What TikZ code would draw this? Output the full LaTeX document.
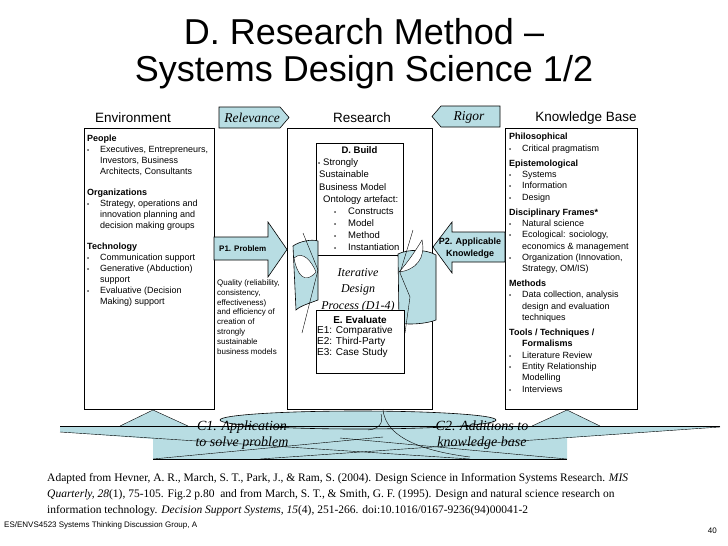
\documentclass[tikz,border=0pt]{standalone}
\usepackage{fontspec}
\setmainfont{Liberation Serif}
\setsansfont{Liberation Sans}
\usetikzlibrary{arrows.meta,positioning}
\definecolor{PaleTeal}{HTML}{B8DDE3}
\newcommand{\bl}{\makebox[13pt][l]{\fontsize{6}{6}\selectfont\textbullet}}
\newcommand{\ind}{\hspace*{13pt}}
\tikzset{
  frame/.style={draw,line width=0.7pt,inner sep=0pt,anchor=north west},
  blueshape/.style={fill=PaleTeal,draw=black,line width=0.6pt},
  colhead/.style={font=\sffamily\fontsize{13.5}{16}\selectfont},
  itext/.style={font=\rmfamily\itshape\fontsize{13.5}{16}\selectfont,inner sep=0pt},
  boxtext/.style={font=\sffamily\fontsize{9}{11}\selectfont,align=left,anchor=base west,inner sep=0pt}
}
\begin{document}
\begin{tikzpicture}[x=1pt,y=-1pt]
  \useasboundingbox (0,0) rectangle (728,546);
  % title (multi-line nodes sit on their last baseline)
  \node[font=\sffamily\fontsize{36}{37}\selectfont,align=center,anchor=base] (title)
    at (364,81) {D. Research Method –\\Systems Design Science 1/2};
  \node[colhead] (envhead) at (133,118) {Environment};
  \node[colhead] (reshead) at (362,118) {Research};
  \node[colhead] (kbhead) at (586,118) {Knowledge Base};

  % bottom cycle arrows
  \fill[PaleTeal] (60,426) -- (720,426) -- (720,427) -- (567,438) -- (567,459)
    -- (153,459) -- (153,439) -- (60,432) -- cycle;
  \draw[blueshape] (358,420) ellipse [x radius=138, y radius=9];
  \fill[PaleTeal] (120,426) -- (153,410) -- (188,426) -- cycle;
  \fill[PaleTeal] (532,426) -- (567,410) -- (600,426) -- cycle;
  \draw (120,426) -- (153,410) -- (188,426);
  \draw (532,426) -- (567,410) -- (600,426);
  \draw (60,426) -- (720,426);
  \draw (60,432) -- (470,459);
  \draw (720,427) -- (260,459);
  \draw (153,459) -- (567,459);
  \draw (153,459) -- (383,437);
  \draw (567,459) -- (340,438);
  \draw (383,409) .. controls (385,440) and (430,452) .. (470,457);
  \draw (381,414) .. controls (384,424) and (378,429) .. (368,430);
  \node[itext,align=center,anchor=base,font=\rmfamily\itshape\fontsize{14}{16}\selectfont] (apply)
    at (242,446) {C1. Application\\to solve problem};
  \node[itext,align=center,anchor=base,font=\rmfamily\itshape\fontsize{14}{16}\selectfont] (additions)
    at (482,446) {C2. Additions to\\knowledge base};

  % the three columns
  \node[frame,minimum width=130,minimum height=281] (envbox) at (84,128) {};
  \node[frame,minimum width=145,minimum height=281] (resbox) at (287,128) {};
  \node[frame,minimum width=132,minimum height=281] (kbbox) at (505,128) {};

  \draw[blueshape] (219,107) -- (280,107) -- (289,117.5) -- (280,128) -- (219,128) -- cycle;
  \node[itext] (relevance) at (252,117.5) {Relevance};
  \draw[blueshape] (432,116.5) -- (441,106) -- (500,106) -- (500,127) -- (441,127) -- cycle;
  \node[itext] (rigor) at (469,117) {Rigor};

  \draw[blueshape] (214,237) -- (268,237) -- (268,222) -- (287,249.5) -- (268,277)
    -- (268,260) -- (214,260) -- cycle;
  \node[font=\sffamily\bfseries\fontsize{8}{10}\selectfont,anchor=base west,inner sep=0pt] (problem)
    at (219,251) {P1. Problem};
  \draw[blueshape] (505,232) -- (452,232) -- (452,222) -- (433,247) -- (452,273)
    -- (452,262) -- (505,262) -- cycle;
  \node[font=\sffamily\bfseries\fontsize{9}{12}\selectfont,align=center,anchor=base,inner sep=0pt] (applicable)
    at (470,256) {P2. Applicable\\Knowledge};

  \node[boxtext] (people) at (87,304) {\textbf{People}\\
    \bl Executives, Entrepreneurs,\\
    \ind Investors, Business\\
    \ind Architects, Consultants\\[10pt]
    \textbf{Organizations}\\
    \bl Strategy, operations and\\
    \ind innovation planning and\\
    \ind decision making groups\\[10pt]
    \textbf{Technology}\\
    \bl Communication support\\
    \bl Generative (Abduction)\\
    \ind support\\
    \bl Evaluative (Decision\\
    \ind Making) support};

  \node[boxtext,font=\sffamily\fontsize{8}{9.8}\selectfont] (quality) at (217,354) {Quality (reliability,\\
    consistency,\\effectiveness)\\and efficiency of\\creation of\\strongly\\sustainable\\business models};

  % research: build / evaluate loop
  \node[frame,fill=white,minimum width=87,minimum height=112] (build) at (316,143) {};
  \node[font=\sffamily\bfseries\fontsize{9.5}{12}\selectfont,anchor=base,inner sep=0pt] (buildtitle)
    at (359.5,153) {D. Build};
  \node[boxtext,font=\sffamily\fontsize{9.5}{12.1}\selectfont] (buildlist) at (318,250.5) {%
    \makebox[5pt][l]{\fontsize{6}{6}\selectfont\textbullet}Strongly\\
    \hspace*{1pt}Sustainable\\
    \hspace*{1pt}Business Model\\
    \hspace*{5pt}Ontology artefact:\\
    \hspace*{16pt}\makebox[14pt][l]{\fontsize{6}{6}\selectfont\textbullet}Constructs\\
    \hspace*{16pt}\makebox[14pt][l]{\fontsize{6}{6}\selectfont\textbullet}Model\\
    \hspace*{16pt}\makebox[14pt][l]{\fontsize{6}{6}\selectfont\textbullet}Method\\
    \hspace*{16pt}\makebox[14pt][l]{\fontsize{6}{6}\selectfont\textbullet}Instantiation};

  \draw[blueshape] (293,246) .. controls (300,241) and (312,239) .. (318,241) -- (318,300)
    .. controls (310,303) and (300,306) .. (296,310) -- cycle;
  \draw[fill=white] (294,258) .. controls (303,250) and (312,262) .. (316,272)
    .. controls (305,285) and (297,275) .. (294,258) -- cycle;
  \draw (303,233) -- (318,270) -- (302,333);
  \draw[blueshape] (398,254) .. controls (408,249) and (426,249) .. (436,255) -- (436,320)
    .. controls (426,324) and (408,325) .. (399,323) -- cycle;
  \draw[fill=white] (399,272) .. controls (408,262) and (416,250) .. (422,240)
    .. controls (426,258) and (416,270) .. (399,272) -- cycle;
  \draw (413,230) -- (400,273) -- (410,297) -- (405,333);

  \node[itext,align=center,anchor=base,font=\rmfamily\itshape\fontsize{12}{16.5}\selectfont] (iterative)
    at (358,309) {Iterative\\Design\\Process (D1-4)};

  \node[frame,fill=white,minimum width=88,minimum height=63] (evaluate) at (316,310) {};
  \node[font=\sffamily\bfseries\fontsize{10}{12}\selectfont,anchor=base,inner sep=0pt] (evaltitle)
    at (360,323) {E. Evaluate};
  \node[boxtext,font=\sffamily\fontsize{10}{10.7}\selectfont] (evallist) at (317,355) {%
    E1: Comparative\\E2: Third-Party\\E3: Case Study};

  % knowledge base
  \node[boxtext,font=\sffamily\fontsize{9}{11.3}\selectfont] (philosophical) at (509,392) {\textbf{Philosophical}\\
    \bl Critical pragmatism\\[3.7pt]
    \textbf{Epistemological}\\
    \bl Systems\\
    \bl Information\\
    \bl Design\\[3.7pt]
    \textbf{Disciplinary Frames*}\\
    \bl Natural science\\
    \bl Ecological: sociology,\\
    \ind economics \& management\\
    \bl Organization (Innovation,\\
    \ind Strategy, OM/IS)\\[3.7pt]
    \textbf{Methods}\\
    \bl Data collection, analysis\\
    \ind design and evaluation\\
    \ind techniques\\[3.7pt]
    \textbf{Tools / Techniques /}\\
    \ind\textbf{Formalisms}\\
    \bl Literature Review\\
    \bl Entity Relationship\\
    \ind Modelling\\
    \bl Interviews};

  % reference and footer
  \node[anchor=base west,align=left,inner sep=0pt,font=\rmfamily\fontsize{11.5}{16}\selectfont] (source)
    at (47,513) {Adapted from Hevner, A. R., March, S. T., Park, J., \& Ram, S. (2004). Design Science in Information Systems Research. \textit{MIS}\\
    \textit{Quarterly, 28}(1), 75-105. Fig.2 p.80 \ and from March, S. T., \& Smith, G. F. (1995). Design and natural science research on\\
    information technology. \textit{Decision Support Systems, 15}(4), 251-266. doi:10.1016/0167-9236(94)00041-2};
  \node[anchor=base west,inner sep=0pt,font=\sffamily\fontsize{8}{10}\selectfont] (course)
    at (4,527) {ES/ENVS4523 Systems Thinking Discussion Group, A};
  \node[anchor=base east,inner sep=0pt,font=\sffamily\fontsize{8}{10}\selectfont] (page)
    at (717,533) {40};
\end{tikzpicture}
\end{document}
